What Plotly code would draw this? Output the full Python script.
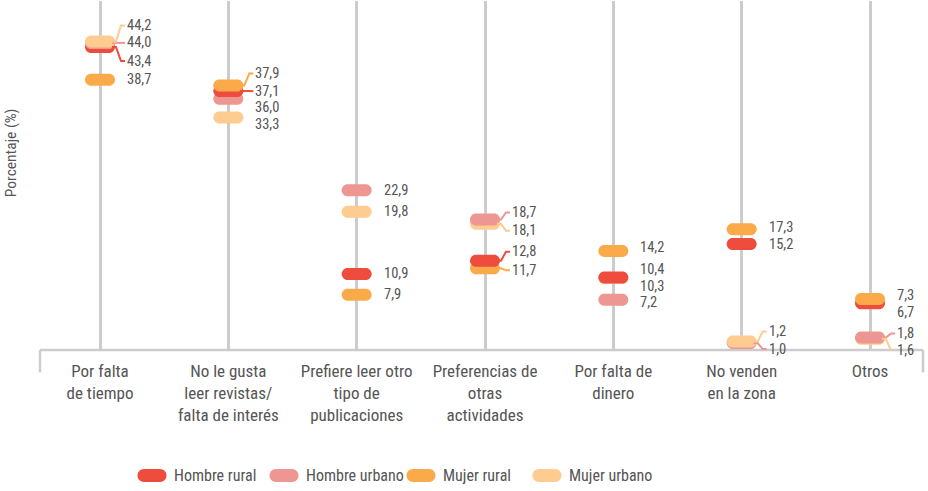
import plotly.graph_objects as go

# ---------------- data ----------------
categories = [
    "Por falta<br>de tiempo",
    "No le gusta<br>leer revistas/<br>falta de interés",
    "Prefiere leer otro<br>tipo de<br>publicaciones",
    "Preferencias de<br>otras<br>actividades",
    "Por falta de<br>dinero",
    "No venden<br>en la zona",
    "Otros",
]
series_names = ["Hombre rural", "Hombre urbano", "Mujer rural", "Mujer urbano"]
hombre_rural = [43.4, 37.1, 10.9, 12.8, 10.4, 15.2, 6.7]
hombre_urbano = [44.0, 36.0, 22.9, 18.7, 7.2, 1.0, 1.8]
mujer_rural = [38.7, 37.9, 7.9, 11.7, 14.2, 17.3, 7.3]
mujer_urbano = [44.2, 33.3, 19.8, 18.1, 10.3, 1.2, 1.6]
y_title = "Porcentaje (%)"

# ---------------- styling ----------------
series_values = [hombre_rural, hombre_urbano, mujer_rural, mujer_urbano]
colors = ["#EE4C3C", "#EE9692", "#FAAA48", "#FECB90"]
FONT = "Liberation Sans Narrow, Roboto Condensed, Roboto, sans-serif"
TXT = "#555555"
GRID = "#CCCCCC"

# label vertical offsets in px (positive = up), keyed (series, category)
label_shift = {
    (0, 0): -14, (1, 0): 0, (2, 0): 0, (3, 0): 16,
    (0, 1): 0, (1, 1): -9, (2, 1): 12, (3, 1): -7,
    (0, 3): 9, (1, 3): 7, (2, 3): -2, (3, 3): -7,
    (0, 4): 8, (1, 4): -3, (2, 4): 3, (3, 4): -8,
    (0, 5): -1, (1, 5): -6, (2, 5): 2, (3, 5): 10,
    (0, 6): -9, (1, 6): 4, (2, 6): 4, (3, 6): -12,
}
leaders = {(0, 0), (1, 0), (3, 0), (0, 1), (2, 1),
           (0, 3), (1, 3), (2, 3), (3, 3),
           (1, 5), (3, 5), (1, 6), (3, 6)}


def pill_path(hw, hh):
    r = hh
    k = 0.5523 * r
    s = hw - r
    return (f"M {-s},{hh} L {s},{hh} C {s + k},{hh} {hw},{k} {hw},0 "
            f"C {hw},{-k} {s + k},{-hh} {s},{-hh} L {-s},{-hh} "
            f"C {-s - k},{-hh} {-hw},{-k} {-hw},0 C {-hw},{k} {-s - k},{hh} {-s},{hh} Z")


fig = go.Figure()
for name, vals, col in zip(series_names, series_values, colors):
    fig.add_trace(go.Scatter(
        x=list(range(len(categories))), y=vals, name=name, mode="markers",
        marker=dict(size=1, opacity=0, color=col), hoverinfo="skip", showlegend=False))

shapes = []
annotations = []

# baseline with end ticks
shapes.append(dict(type="line", xref="paper", yref="paper", x0=0, x1=1, y0=0, y1=0,
                   line=dict(color=GRID, width=2.5), layer="below"))
for xe in (0, 1):
    shapes.append(dict(type="line", xref="paper", yref="paper", x0=xe, x1=xe, y0=0, y1=-0.064,
                       line=dict(color=GRID, width=2.5), layer="below"))

# pills, drawn with larger values on top
items = []
for si, vals in enumerate(series_values):
    for ci, v in enumerate(vals):
        items.append((v, si, ci))
items.sort()
for v, si, ci in items:
    shapes.append(dict(type="path", xref="x", yref="y", xsizemode="pixel", ysizemode="pixel",
                       xanchor=ci, yanchor=v, path=pill_path(15, 6),
                       fillcolor=colors[si], line=dict(width=0), layer="above"))

# leaders + value labels
for si, vals in enumerate(series_values):
    for ci, v in enumerate(vals):
        dy = label_shift.get((si, ci), 0)
        if (si, ci) in leaders:
            if dy == 0:
                p = "M 12,0 L 25,0"
            else:
                p = f"M 12,0 L 16,0 L 21,{dy} L 25,{dy}"
            shapes.append(dict(type="path", xref="x", yref="y", xsizemode="pixel",
                               ysizemode="pixel", xanchor=ci, yanchor=v, path=p,
                               line=dict(color=colors[si], width=2), layer="above"))
        annotations.append(dict(x=ci, y=v, xref="x", yref="y", text=f"{v:.1f}".replace(".", ","),
                                showarrow=False, xanchor="left", yanchor="middle",
                                xshift=25, yshift=dy, font=dict(family=FONT, size=14.5, color=TXT)))

# y title
annotations.append(dict(x=0, y=0.564, xref="paper", yref="paper", text=y_title, textangle=-90,
                        showarrow=False, xshift=-40, font=dict(family=FONT, size=15.5, color=TXT)))

# manual legend
L, PW = 40.0, 883.0
legend_cx = [152, 284, 421, 547]
for name, col, cx in zip(series_names, colors, legend_cx):
    px = (cx - L) / PW
    py = (350 - 475.5) / 349.0
    shapes.append(dict(type="path", xref="paper", yref="paper", xsizemode="pixel",
                       ysizemode="pixel", xanchor=px, yanchor=py, path=pill_path(14.5, 6.5),
                       fillcolor=col, line=dict(width=0)))
    annotations.append(dict(x=px, y=py, xref="paper", yref="paper", text=name, showarrow=False,
                            xanchor="left", yanchor="middle", xshift=20,
                            font=dict(family=FONT, size=16, color=TXT)))

fig.update_layout(
    width=928, height=491,
    margin=dict(l=40, r=5, t=1, b=141),
    paper_bgcolor="white", plot_bgcolor="white",
    showlegend=False,
    shapes=shapes, annotations=annotations,
    xaxis=dict(range=[-0.4675, 6.413], tickvals=list(range(len(categories))), ticktext=categories,
               showgrid=True, gridcolor=GRID, gridwidth=2.5, zeroline=False, showline=False,
               ticks="", ticklabelstandoff=9, tickfont=dict(family=FONT, size=17, color=TXT)),
    yaxis=dict(range=[0, 50], visible=False, showgrid=False, zeroline=False),
)

fig.write_html("out.html", config={"displayModeBar": False},
               post_script="document.body.style.margin='0';document.body.style.overflow='hidden';")
